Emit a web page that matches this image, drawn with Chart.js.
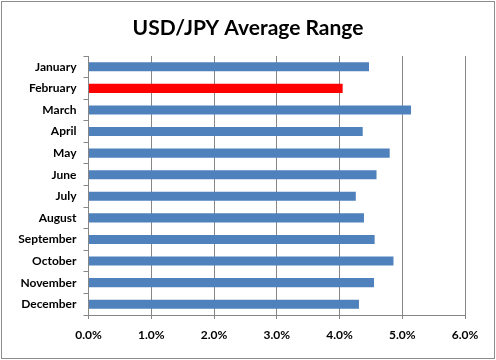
<!DOCTYPE html>
<html>
<head>
<meta charset="utf-8">
<script src="https://cdn.jsdelivr.net/npm/chart.js@4"></script>
<style>
  html, body { margin: 0; padding: 0; background: #fff; }
  #wrap { width: 496px; height: 360px; position: relative; }
</style>
</head>
<body>
<div id="wrap"><canvas id="rangeChart"></canvas></div>
<script>
const chartTitle = 'USD/JPY Average Range';
const months = ['January', 'February', 'March', 'April', 'May', 'June',
    'July', 'August', 'September', 'October', 'November', 'December'];
const avgRange = [4.47, 4.05, 5.14, 4.37, 4.80, 4.59, 4.26, 4.39, 4.56, 4.86, 4.55, 4.31];
const highlightMonth = 'February';
const xTicks = [0, 1, 2, 3, 4, 5, 6];

const blue = '#4F81BD';
const red = '#FF0000';
const axisGray = '#868686';

// заголовок по центру всей картинки + рамка вокруг, как в Excel
const excelFrame = {
    id: 'excelFrame',
    afterDraw(chart) {
        const ctx = chart.ctx;
        ctx.save();
        ctx.fillStyle = '#000';
        ctx.font = 'bold 21px Lato';
        ctx.textAlign = 'center';
        ctx.textBaseline = 'middle';
        ctx.fillText(chartTitle, chart.width / 2, 28);

        ctx.strokeStyle = '#8c8c8c';
        ctx.lineWidth = 1;
        ctx.strokeRect(1.5, 1.5, chart.width - 3, chart.height - 3);
        ctx.restore();
    }
};

const ctx = document.getElementById('rangeChart').getContext('2d');
new Chart(ctx, {
    type: 'bar',
    data: {
        labels: months,
        datasets: [{
            data: avgRange,
            backgroundColor: months.map(m => m === highlightMonth ? red : blue),
            barPercentage: 0.42,
            categoryPercentage: 1
        }]
    },
    options: {
        indexAxis: 'y',
        responsive: true,
        maintainAspectRatio: false,
        animation: false,
        layout: { padding: { left: 0, right: 31, top: 56, bottom: 10 } },
        plugins: {
            legend: { display: false },
            tooltip: { enabled: false },
            title: { display: false }
        },
        scales: {
            x: {
                min: 0,
                max: 6,
                afterBuildTicks: scale => { scale.ticks = xTicks.map(v => ({ value: v })); },
                afterFit: scale => { scale.height = 35; },
                grid: { color: axisGray, tickLength: 4, drawOnChartArea: true },
                border: { color: axisGray },
                ticks: {
                    color: '#000',
                    padding: 9,
                    font: { family: 'Lato', size: 12, weight: 'bold' },
                    callback: v => v.toFixed(1) + '%'
                }
            },
            y: {
                afterFit: scale => { scale.width = 88.5; },
                grid: { color: axisGray, tickLength: 5, drawOnChartArea: false, offset: true },
                border: { color: axisGray },
                ticks: {
                    color: '#000',
                    padding: 7,
                    autoSkip: false,
                    font: { family: 'Lato', size: 12, weight: 'bold' }
                }
            }
        }
    },
    plugins: [excelFrame]
});
</script>
</body>
</html>
